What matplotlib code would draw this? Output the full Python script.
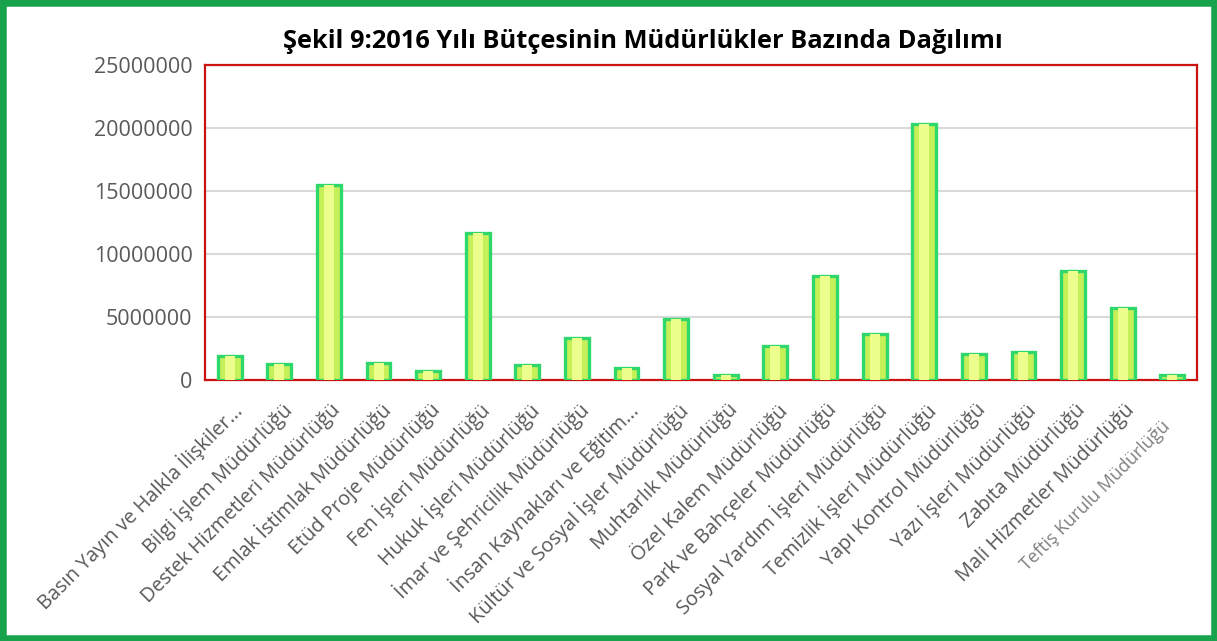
# budget chart by directorate, 2016
import numpy as np
import matplotlib.pyplot as plt
from matplotlib.patches import Rectangle
from matplotlib.transforms import ScaledTranslation

plt.rcParams['font.family'] = ['Open Sans', 'DejaVu Sans']

# directorates and budget values
mudurlukler = [
    "Basın Yayın ve Halkla İlişkiler...",
    "Bilgi İşlem Müdürlüğü",
    "Destek Hizmetleri Müdürlüğü",
    "Emlak İstimlak Müdürlüğü",
    "Etüd Proje Müdürlüğü",
    "Fen İşleri Müdürlüğü",
    "Hukuk İşleri Müdürlüğü",
    "İmar ve Şehricilik Müdürlüğü",
    "İnsan Kaynakları ve Eğitim...",
    "Kültür ve Sosyal İşler Müdürlüğü",
    "Muhtarlık Müdürlüğü",
    "Özel Kalem Müdürlüğü",
    "Park ve Bahçeler Müdürlüğü",
    "Sosyal Yardım İşleri Müdürlüğü",
    "Temizlik İşleri Müdürlüğü",
    "Yapı Kontrol Müdürlüğü",
    "Yazı İşleri Müdürlüğü",
    "Zabıta Müdürlüğü",
    "Mali Hizmetler Müdürlüğü",
    "Teftiş Kurulu Müdürlüğü",
]
butce = [1900000, 1270000, 15450000, 1370000, 690000, 11700000, 1160000,
         3330000, 980000, 4840000, 420000, 2720000, 8230000, 3630000,
         20300000, 2060000, 2200000, 8630000, 5710000, 420000]
y_ticks = [0, 5000000, 10000000, 15000000, 20000000, 25000000]

fig = plt.figure(figsize=(12.17, 6.41), dpi=100)
ax = fig.add_axes([0.1684, 0.4072, 0.8152, 0.4914])

x = np.arange(len(mudurlukler))
ax.bar(x, butce, width=0.48, color="#c6f058", edgecolor="#30d86c", linewidth=2.4, zorder=3)
ax.bar(x, butce, width=0.2, color="#ecff8c", linewidth=0, zorder=4)

ax.set_xlim(-0.5, len(mudurlukler) - 0.5)
ax.set_ylim(0, 25000000)
ax.set_yticks(y_ticks)
ax.set_yticklabels([str(v) for v in y_ticks], fontsize=15.5, color="#595959")
ax.yaxis.grid(True, color="#d9d9d9", linewidth=1.5, zorder=0)
ax.set_axisbelow(True)
ax.tick_params(axis="y", length=0, pad=9)
ax.tick_params(axis="x", length=0, pad=3)

for s in ax.spines.values():
    s.set_color("#cc1111")
    s.set_linewidth(1.6)

ax.set_xticks(x)
ax.set_xticklabels(mudurlukler, rotation=45, ha="right", va="center",
                   rotation_mode="anchor", fontsize=14.3, color="#595959")
offset = ScaledTranslation(9 / 100, -23 / 100, fig.dpi_scale_trans)
for lbl in ax.get_xticklabels():
    lbl.set_transform(lbl.get_transform() + offset)
last = ax.get_xticklabels()[-1]
last.set_color("#808080")
last.set_fontsize(13)
last.set_transform(last.get_transform() + ScaledTranslation(-14 / 100, -17 / 100, fig.dpi_scale_trans))

fig.text(0.528, 0.936, "Şekil 9:2016 Yılı Bütçesinin Müdürlükler Bazında Dağılımı",
         ha="center", va="center", fontsize=18.3, fontweight="bold", color="black")

# green outer frame
fig.patches.append(Rectangle((0, 0), 1, 1, transform=fig.transFigure, fill=False,
                             edgecolor="#18a24c", linewidth=9))

plt.savefig("out.png", dpi=100)
